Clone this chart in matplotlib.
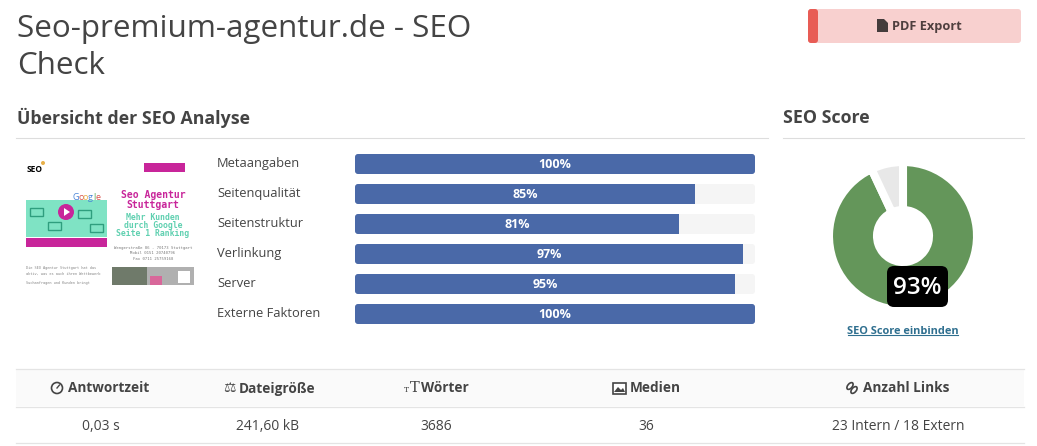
import matplotlib
matplotlib.use('Agg')
import matplotlib.pyplot as plt
from matplotlib.patches import FancyBboxPatch, Rectangle, Circle, Ellipse, Polygon

plt.rcParams['font.family'] = ['Open Sans', 'DejaVu Sans']

W, H = 1037, 446

title = 'Seo-premium-agentur.de - SEO\nCheck'
categories = ['Metaangaben', 'Seitenqualität', 'Seitenstruktur', 'Verlinkung', 'Server', 'Externe Faktoren']
scores = [100, 85, 81, 97, 95, 100]
seo_score = 93
table_heads = ['Antwortzeit', 'Dateigröße', 'Wörter', 'Medien', 'Anzahl Links']
table_values = ['0,03 s', '241,60 kB', '3686', '36', '23 Intern / 18 Extern']

BLUE = '#4a69a8'
GREEN = '#64965a'
TEXT = '#444444'
LINE = '#e4e4e4'
PINK = '#c8259a'
MINT = '#7fe3c4'


def px_axes(x, y, w, h, **kw):
    # position given in picture pixels, y from the top
    return fig.add_axes([x / W, 1 - (y + h) / H, w / W, h / H], **kw)


fig = plt.figure(figsize=(W / 100, H / 100), dpi=100, facecolor='white')

# progress bars
ax = px_axes(355, 149, 400, 180)
ax.set_xlim(0, 100)
ax.set_ylim(5.5, -0.5)
ax.patch.set_visible(False)
for s in ax.spines.values():
    s.set_visible(False)
ax.set_xticks([])
ax.set_yticks([])
for i, v in enumerate(scores):
    track = FancyBboxPatch((0, i - 1 / 3), 100, 2 / 3, boxstyle='round,pad=0,rounding_size=0.75',
                           mutation_aspect=4 / 30, fc='#f5f5f5', ec='none')
    ax.add_patch(track)
    bar = ax.barh(i, v, height=2 / 3, color=BLUE)[0]
    bar.set_clip_path(track)
    ax.text(v / 2, i, f'{v}%', color='white', fontsize=9, fontweight='bold', ha='center', va='center')

# donut
ax2 = px_axes(833, 166, 140, 140)
ax2.pie([seo_score, 100 - seo_score], colors=[GREEN, '#e8e8e8'], startangle=90, counterclock=False,
        radius=74 / 70, wedgeprops=dict(width=48 / 70, edgecolor='white', linewidth=5.8))
ax2.set_xlim(-1, 1)
ax2.set_ylim(-1, 1)

# everything around the charts, in pixels
ov = fig.add_axes([0, 0, 1, 1], zorder=5)
ov.set_xlim(0, W)
ov.set_ylim(H, 0)
ov.axis('off')

ov.text(17, 29, title.split('\n')[0], fontsize=22.6, color=TEXT, va='center')
ov.text(17, 66, title.split('\n')[1], fontsize=22.6, color=TEXT, va='center')

# pdf button
ov.add_patch(FancyBboxPatch((808, 9), 213, 34, boxstyle='round,pad=0,rounding_size=3', fc='#f8d0cf', ec='none'))
ov.add_patch(FancyBboxPatch((808, 9), 10, 34, boxstyle='round,pad=0,rounding_size=3', fc='#e85c55', ec='none'))
ov.add_patch(Polygon([(877, 19), (884, 19), (888, 23), (888, 32), (877, 32)], fc='#443c3c', ec='none'))
ov.text(892, 26.5, 'PDF Export', fontsize=9.2, fontweight='bold', color='#4f3f3f', va='center')

# section headings
ov.text(17, 118, 'Übersicht der SEO Analyse', fontsize=12.8, fontweight='bold', color=TEXT, va='center')
ov.text(783, 118, 'SEO Score', fontsize=12.8, fontweight='bold', color=TEXT, va='center')
ov.plot([16, 768], [138, 138], color='#dddddd', lw=0.8)
ov.plot([783, 1024], [138, 138], color='#dddddd', lw=0.8)

# bar labels
for i, s in enumerate(categories):
    ov.text(217, 163.5 + 30 * i, s, fontsize=9.3, color=TEXT, va='center')

# badge on the donut
ov.add_patch(FancyBboxPatch((887, 266), 61, 41, boxstyle='round,pad=0,rounding_size=7', fc='black', ec='none'))
ov.text(917.5, 288, f'{seo_score}%', color='white', fontsize=17.5, fontweight='semibold', ha='center', va='center')
ov.text(903, 331, 'SEO Score einbinden', color='#2f6f8f', fontsize=7.9, fontweight='bold', ha='center', va='center')
ov.plot([848, 958], [335, 335], color='#2f6f8f', lw=0.8)

# website thumbnail
ov.text(34.5, 170, 'SEO', fontsize=6, fontweight='bold', color='black', ha='center', va='center')
ov.add_patch(Circle((43, 163), 2, fc='#e8b04a', ec='none'))
ov.add_patch(Rectangle((144, 163), 41, 9, fc=PINK, ec='none'))
ov.add_patch(Rectangle((26, 200), 81, 37, fc=MINT, ec='none'))
for x0, y0 in [(30, 208), (48, 222), (78, 210), (90, 224)]:
    ov.add_patch(Rectangle((x0, y0), 13, 8, fc=MINT, ec='#2f9e7e', lw=1))
ov.add_patch(Circle((66, 212), 8, fc=PINK, ec='none'))
ov.add_patch(Polygon([(64, 208), (64, 216), (70, 212)], fc='white', ec='none'))
ov.add_patch(Rectangle((26, 238), 81, 9, fc=PINK, ec='none'))
for x, ch, c in zip([76, 81, 85.5, 90, 94, 97.5], 'Google', ['#4a86d8', '#d9534f', '#e8b04a', '#4a86d8', '#5cae5c', '#d9534f']):
    ov.text(x, 197, ch, fontsize=6.5, color=c, ha='center', va='center')
for y, s in zip([195, 205], ['Seo Agentur', 'Stuttgart']):
    ov.text(153, y, s, fontsize=7, fontweight='bold', family='DejaVu Sans Mono', color=PINK, ha='center', va='center')
for y, s in zip([217, 225, 233], ['Mehr Kunden', 'durch Google', 'Seite 1 Ranking']):
    ov.text(153, y, s, fontsize=5.9, fontweight='bold', family='DejaVu Sans Mono', color='#5fd0b0', ha='center', va='center')
for y, s in zip([248, 253, 259], ['Wengerstraße 86 - 70173 Stuttgart', 'Mobil 0151 20740796', 'Fax 0711 25759168']):
    ov.text(153, y, s, fontsize=2.8, family='DejaVu Sans Mono', color='#777777', ha='center', va='center')
for y, s in zip([268, 274, 283], ['Die SEO Agentur Stuttgart hat das', 'aktiv, was es auch ihren Wettbewerb', 'Suchanfragen und Kunden bringt']):
    ov.text(26, y, s, fontsize=2.6, family='DejaVu Sans Mono', color='#888888', va='center')
ov.add_patch(Rectangle((112, 267), 82, 18, fc='#b0b0b0', ec='none'))
ov.add_patch(Rectangle((112, 267), 35, 18, fc='#6f7a6a', ec='none'))
ov.add_patch(Rectangle((150, 276), 12, 9, fc='#d8679a', ec='none'))
ov.add_patch(Rectangle((178, 271), 12, 12, fc='white', ec='none'))

# table
ov.add_patch(Rectangle((16, 370), 1008, 36, fc='#fafafa', ec='none'))
for y in [369, 406.5, 443]:
    ov.plot([16, 1024], [y, y], color=LINE, lw=0.9)
head_x = [68, 239, 421, 630, 863]
value_x = [101, 267, 436, 646, 898]
for x, s in zip(head_x, table_heads):
    ov.text(x, 388.5, s, fontsize=9.8, fontweight='bold', color=TEXT, va='center')
for x, s in zip(value_x, table_values):
    ov.text(x, 426, s, fontsize=10, color=TEXT, ha='center', va='center')

# small table icons
ov.add_patch(Circle((57, 388), 5.5, fc='none', ec=TEXT, lw=1.2))
ov.plot([57, 59.5], [388, 385], color=TEXT, lw=1)
ov.text(229, 388, '\u2696', fontsize=10, family='DejaVu Sans', color=TEXT, ha='center', va='center')
ov.text(406.5, 390, 'T', fontsize=5.5, family='DejaVu Serif', color=TEXT, ha='center', va='center')
ov.text(415, 388, 'T', fontsize=10.5, family='DejaVu Serif', color=TEXT, ha='center', va='center')
ov.add_patch(Rectangle((612.5, 382.5), 13, 11, fc='white', ec=TEXT, lw=1.2))
ov.add_patch(Polygon([(614, 392), (618, 387), (621, 390), (623, 388), (625, 392)], fc=TEXT, ec='none'))
ov.add_patch(Ellipse((850, 386), 8, 4.5, angle=-50, fc='none', ec=TEXT, lw=1.2))
ov.add_patch(Ellipse((854, 390), 8, 4.5, angle=-50, fc='none', ec=TEXT, lw=1.2))

fig.savefig('out.png', dpi=100)
